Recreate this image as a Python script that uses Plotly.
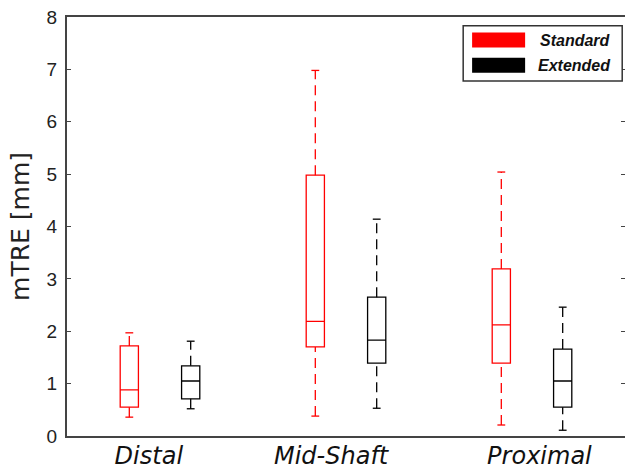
import plotly.graph_objects as go

categories = ["Distal", "Mid-Shaft", "Proximal"]
group_pos = [1, 2, 3]
label_pos = [0.94, 1.92, 3.04]

std_low = [0.36, 0.38, 0.21]
std_q1 = [0.55, 1.70, 1.39]
std_med = [0.88, 2.19, 2.12]
std_q3 = [1.72, 4.98, 3.19]
std_high = [1.97, 6.98, 5.04]

ext_low = [0.52, 0.53, 0.11]
ext_q1 = [0.71, 1.39, 0.55]
ext_med = [1.05, 1.83, 1.05]
ext_q3 = [1.34, 2.65, 1.66]
ext_high = [1.81, 4.14, 2.46]

series = [
    ("Standard", "#ff0000", -0.165, std_low, std_q1, std_med, std_q3, std_high),
    ("Extended", "#000000", 0.165, ext_low, ext_q1, ext_med, ext_q3, ext_high),
]

BOX_W = 0.098
CAP_HALF = 0.021

fig = go.Figure()
for name, color, off, lo, q1, med, q3, hi in series:
    xs = [p + off for p in group_pos]
    fig.add_trace(go.Box(
        x=xs, q1=q1, median=med, q3=q3, lowerfence=q1, upperfence=q3,
        width=BOX_W, line=dict(color=color, width=1.3), fillcolor="rgba(0,0,0,0)",
        showlegend=False, hoverinfo="skip", whiskerwidth=0,
    ))
    # dashed whiskers
    wx, wy = [], []
    for x, a, b, c, d in zip(xs, lo, q1, q3, hi):
        wx += [x, x, None, x, x, None]
        wy += [a, b, None, c, d, None]
    fig.add_trace(go.Scatter(x=wx, y=wy, mode="lines",
                             line=dict(color=color, width=1.3, dash="10px,6px"),
                             showlegend=False, hoverinfo="skip"))
    # caps
    cx, cy = [], []
    for x, a, d in zip(xs, lo, hi):
        cx += [x - CAP_HALF, x + CAP_HALF, None, x - CAP_HALF, x + CAP_HALF, None]
        cy += [a, a, None, d, d, None]
    fig.add_trace(go.Scatter(x=cx, y=cy, mode="lines",
                             line=dict(color=color, width=1.3),
                             showlegend=False, hoverinfo="skip"))

# dummy trace for right-side ticks
fig.add_trace(go.Scatter(x=[None], y=[None], yaxis="y2", showlegend=False, hoverinfo="skip"))

axis_col = "#444444"
fig.update_layout(
    width=625, height=469,
    margin=dict(l=67, r=0, t=17, b=33),
    paper_bgcolor="white", plot_bgcolor="white",
    showlegend=False,
    xaxis=dict(
        range=[0.5, 3.5], tickmode="array", tickvals=label_pos, ticktext=categories,
        ticks="", showgrid=False, zeroline=False, automargin=False, ticklabelstandoff=-3,
        showline=True, linecolor=axis_col, linewidth=2, mirror=True,
        tickfont=dict(family="DejaVu Sans", size=24, color="#111111", style="italic"),
    ),
    yaxis=dict(
        range=[0, 8], dtick=1, ticks="inside", ticklen=4, tickcolor=axis_col,
        showgrid=False, zeroline=False, ticklabelstandoff=4, automargin=False,
        showline=True, linecolor=axis_col, linewidth=2,
        tickfont=dict(family="Liberation Sans", size=19, color="#222222"),
        title=dict(text="mTRE [mm]", font=dict(family="DejaVu Sans", size=25, color="#222222"),
                   standoff=10),
    ),
    yaxis2=dict(
        range=[0, 8], dtick=1, overlaying="y", side="right", ticks="inside", ticklen=4,
        tickcolor=axis_col, showticklabels=False, showgrid=False, zeroline=False, showline=False,
        automargin=False,
    ),
)

# legend drawn manually (MATLAB-style)
fig.add_shape(type="rect", xref="paper", yref="paper", x0=0.710, x1=0.995, y0=0.847, y1=0.979,
              line=dict(color="#333333", width=1.5), fillcolor="white")
for (name, color, *_), yc in zip(series, [0.945, 0.885]):
    fig.add_shape(type="rect", xref="paper", yref="paper", x0=0.726, x1=0.821,
                  y0=yc - 0.018, y1=yc + 0.018, line=dict(width=0), fillcolor=color)
    fig.add_annotation(xref="paper", yref="paper", x=0.979, y=yc, xanchor="right", yanchor="middle",
                       text="<b><i>%s</i></b>" % name, showarrow=False,
                       font=dict(family="Liberation Sans", size=16, color="#111111"))

fig.write_html("out.html")
